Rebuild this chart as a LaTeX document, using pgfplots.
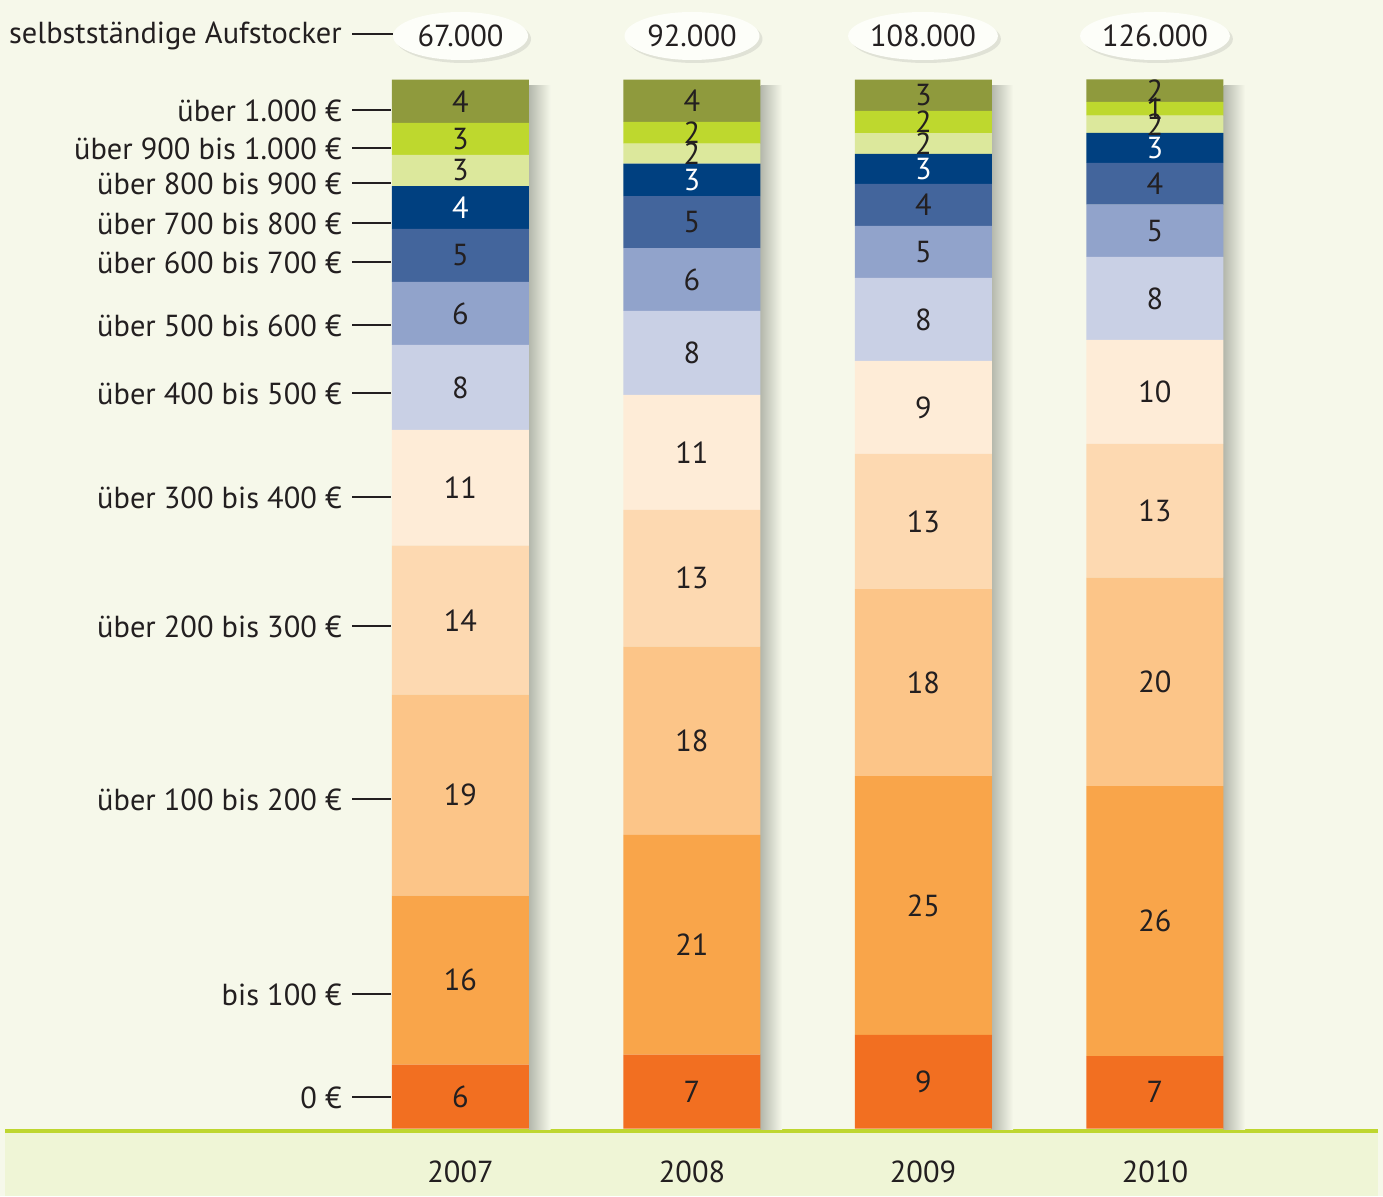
\documentclass[border=0pt]{standalone}
\usepackage{pgfplots}
\pgfplotsset{compat=1.18}
\usepackage{pgfplotstable}
\usepackage{fontspec}
\setmainfont{PT Sans}
\usetikzlibrary{shadows, shapes.geometric}

\definecolor{bgcol}{HTML}{F6F8EA}
\definecolor{bandcol}{HTML}{EFF5D6}
\definecolor{linecol}{HTML}{BED62F}
\definecolor{txt}{HTML}{231F20}
\definecolor{shadowcol}{HTML}{B4B8AC}
\definecolor{bubble}{HTML}{FDFEF9}
\definecolor{c0}{HTML}{F26F21}
\definecolor{c1}{HTML}{F9A54A}
\definecolor{c2}{HTML}{FCC588}
\definecolor{c3}{HTML}{FDD9B1}
\definecolor{c4}{HTML}{FEECD7}
\definecolor{c5}{HTML}{C9D0E5}
\definecolor{c6}{HTML}{91A3CB}
\definecolor{c7}{HTML}{43659C}
\definecolor{c8}{HTML}{004080}
\definecolor{c9}{HTML}{DCE89C}
\definecolor{c10}{HTML}{BED82E}
\definecolor{c11}{HTML}{8F9A3D}

\newcommand\lbl{\fontsize{15.2}{18}\selectfont}

% shares in percent per income class, 0 EUR first, over 1.000 EUR last
\pgfplotstableread{
x     v0   v1    v2    v3    v4    v5   v6   v7   v8   v9   v10  v11
2007  6.11 16.11 19.14 14.21 11.03 8.11 6.01 5.06 4.07 2.98 3.05 4.11
2008  7.06 20.94 17.95 13.04 10.96 8.01 5.98 4.96 3.08 1.91 2.07 4.04
2009  8.93 24.68 17.83 12.87  8.87 7.91 4.96 4.00 2.86 2.00 2.10 2.99
2010  6.92 25.74 19.86 12.75  9.91 7.91 5.00 3.97 2.86 1.64 1.32 2.14
}\shares

\pgfplotsset{
  seg/.style={fill=#1, draw=none},
}
\tikzset{
  px/.style={x=0.5pt, y=-0.5pt, yshift=598pt},
  bub/.style={ellipse, fill=bubble, inner sep=0pt,
    minimum width=67.5pt, minimum height=24pt,
    drop shadow={opacity=0.18, shadow xshift=1.5pt, shadow yshift=-1.5pt},
    font=\lbl, text=txt},
  cls/.style={anchor=east, inner sep=0pt, font=\lbl, text=txt},
  tk/.style={txt, line width=1pt},
}

\begin{document}
\begin{tikzpicture}
\useasboundingbox (0,0) rectangle (691.5pt,598pt);
% background, band and bar shadows (pixel coordinates of the page)
\begin{scope}[px]
  \fill[bgcol] (0,0) rectangle (1383,1196);
  \fill[bandcol] (5,1130) rectangle (1378,1196);
  \draw[linecol, line width=2pt] (5,1131) -- (1378,1131);
  \foreach \cx in {460.5,692,923,1155}
    \shade[left color=shadowcol, right color=bgcol] (\cx+68.5,86) rectangle (\cx+90,1129);
\end{scope}

\begin{axis}[
  at={(0,0)}, anchor=south west,
  scale only axis, width=691.5pt, height=598pt,
  xmin=2005.011, xmax=2010.985, ymin=-6.425, ymax=107.59,
  hide axis, clip=false,
  ybar stacked, bar width=68.5pt,
  point meta=explicit,
  /pgf/number format/assume math mode=true,
  nodes near coords={\pgfmathprintnumber[fixed,precision=0]{\pgfplotspointmeta}},
  every node near coord/.append style={font=\lbl, text=txt, anchor=center},
]
\addplot[seg=c0] table[x=x, y=v0, meta=v0] {\shares};
\addplot[seg=c1] table[x=x, y=v1, meta=v1] {\shares};
\addplot[seg=c2] table[x=x, y=v2, meta=v2] {\shares};
\addplot[seg=c3] table[x=x, y=v3, meta=v3] {\shares};
\addplot[seg=c4] table[x=x, y=v4, meta=v4] {\shares};
\addplot[seg=c5] table[x=x, y=v5, meta=v5] {\shares};
\addplot[seg=c6] table[x=x, y=v6, meta=v6] {\shares};
\addplot[seg=c7] table[x=x, y=v7, meta=v7] {\shares};
\addplot[seg=c8, every node near coord/.append style={text=white}] table[x=x, y=v8, meta=v8] {\shares};
\addplot[seg=c9] table[x=x, y=v9, meta=v9] {\shares};
\addplot[seg=c10] table[x=x, y=v10, meta=v10] {\shares};
\addplot[seg=c11] table[x=x, y=v11, meta=v11] {\shares};
\end{axis}

% totals, years and class labels (pixel coordinates of the page)
\begin{scope}[px]
  \foreach \cx/\n in {460.5/67.000, 692/92.000, 923/108.000, 1155/126.000}
    \node[bub] at (\cx,36) {\n};
  \foreach \cx/\n in {460.5/2007, 692/2008, 923/2009, 1155/2010}
    \node[font=\lbl, text=txt] at (\cx,1172) {\n};
  \draw[tk] (352,34) -- (393,34);
  \node[cls] at (342,36) {selbstständige Aufstocker};
  \foreach \y/\t in {
    110/über 1.000 €,
    148/über 900 bis 1.000 €,
    183/über 800 bis 900 €,
    223/über 700 bis 800 €,
    262/über 600 bis 700 €,
    325/über 500 bis 600 €,
    393/über 400 bis 500 €,
    497/über 300 bis 400 €,
    626/über 200 bis 300 €,
    799/über 100 bis 200 €,
    994/bis 100 €,
    1097/0 €} {
    \draw[tk] (352,\y) -- (391,\y);
    \node[cls] at (342,\y+1) {\t};
  }
\end{scope}
\end{tikzpicture}
\end{document}
